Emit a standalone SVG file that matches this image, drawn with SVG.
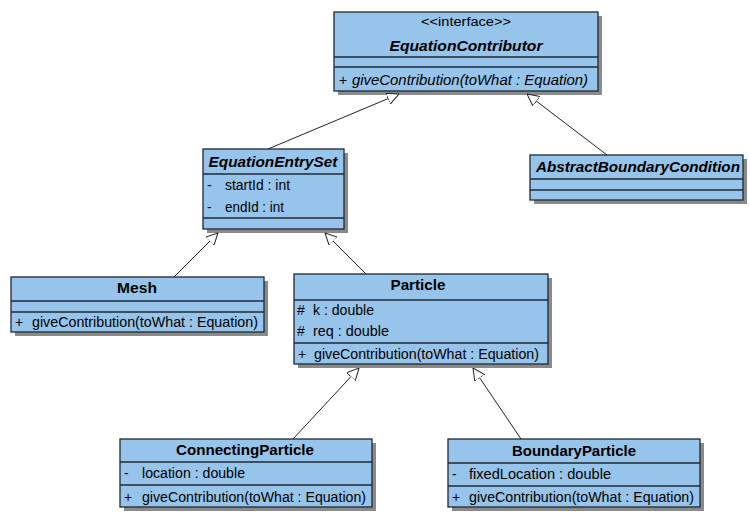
<svg xmlns="http://www.w3.org/2000/svg" width="750" height="513" viewBox="0 0 750 513">
<defs>
<marker id="gen" viewBox="0 0 12 12" refX="12" refY="6" markerWidth="12" markerHeight="12" markerUnits="userSpaceOnUse" orient="auto">
<path d="M0,0 L12,6 L0,12 Z" fill="#fff" stroke="#222" stroke-width="1"/>
</marker>
</defs>
<style>
.box{fill:#97c4ea;stroke:#1e2a33;stroke-width:1.3}
.sh{fill:#8a8a8a}
.ln{stroke:#1e2a33;stroke-width:1.3}
.t{font-family:"Liberation Sans",Arial,sans-serif;font-size:14px;fill:#000}
.title{font-weight:bold;text-anchor:middle}
.ab{font-style:italic}
.ster{font-size:12px;text-anchor:middle}
.c{stroke:#222;stroke-width:1;fill:none;marker-end:url(#gen)}
</style>
<rect width="750" height="513" fill="#fff"/>

<g id="EquationContributor">
<rect class="sh" x="338" y="16" width="264" height="79"/>
<rect class="box" x="334" y="12" width="264" height="79"/>
<line class="ln" x1="334" y1="57" x2="598" y2="57"/>
<line class="ln" x1="334" y1="67" x2="598" y2="67"/>
<text class="t ster" x="466" y="26" textLength="90" lengthAdjust="spacingAndGlyphs">&lt;&lt;interface&gt;&gt;</text>
<text class="t title ab" x="466" y="51" textLength="153" lengthAdjust="spacingAndGlyphs">EquationContributor</text>
<text class="t" x="339" y="85">+</text>
<text class="t ab" x="352" y="85" textLength="236" lengthAdjust="spacingAndGlyphs">giveContribution(toWhat : Equation)</text>
</g>

<g id="EquationEntrySet">
<rect class="sh" x="207" y="153" width="141" height="80"/>
<rect class="box" x="203" y="149" width="141" height="80"/>
<line class="ln" x1="203" y1="174" x2="344" y2="174"/>
<line class="ln" x1="203" y1="218" x2="344" y2="218"/>
<text class="t title ab" x="273" y="167" textLength="129" lengthAdjust="spacingAndGlyphs">EquationEntrySet</text>
<text class="t" x="207" y="190">-</text>
<text class="t" x="225" y="190" textLength="65" lengthAdjust="spacingAndGlyphs">startId : int</text>
<text class="t" x="207" y="212">-</text>
<text class="t" x="225" y="212" textLength="59" lengthAdjust="spacingAndGlyphs">endId : int</text>
</g>

<g id="AbstractBoundaryCondition">
<rect class="sh" x="534" y="159" width="213" height="45"/>
<rect class="box" x="530" y="155" width="213" height="45"/>
<line class="ln" x1="530" y1="179" x2="743" y2="179"/>
<line class="ln" x1="530" y1="190" x2="743" y2="190"/>
<text class="t title ab" x="638" y="172" textLength="204" lengthAdjust="spacingAndGlyphs">AbstractBoundaryCondition</text>
</g>

<g id="Mesh">
<rect class="sh" x="15" y="281" width="253" height="55"/>
<rect class="box" x="11" y="277" width="253" height="55"/>
<line class="ln" x1="11" y1="301" x2="264" y2="301"/>
<line class="ln" x1="11" y1="312" x2="264" y2="312"/>
<text class="t title" x="137" y="293" textLength="40" lengthAdjust="spacingAndGlyphs">Mesh</text>
<text class="t" x="15" y="327">+</text>
<text class="t" x="32" y="327" textLength="226" lengthAdjust="spacingAndGlyphs">giveContribution(toWhat : Equation)</text>
</g>

<g id="Particle">
<rect class="sh" x="298" y="278" width="254" height="90"/>
<rect class="box" x="294" y="274" width="254" height="90"/>
<line class="ln" x1="294" y1="300" x2="548" y2="300"/>
<line class="ln" x1="294" y1="343" x2="548" y2="343"/>
<text class="t title" x="418" y="290" textLength="55" lengthAdjust="spacingAndGlyphs">Particle</text>
<text class="t" x="297" y="315">#</text>
<text class="t" x="313" y="315" textLength="61" lengthAdjust="spacingAndGlyphs">k : double</text>
<text class="t" x="297" y="336">#</text>
<text class="t" x="313" y="336" textLength="76" lengthAdjust="spacingAndGlyphs">req : double</text>
<text class="t" x="298" y="359">+</text>
<text class="t" x="314" y="359" textLength="225" lengthAdjust="spacingAndGlyphs">giveContribution(toWhat : Equation)</text>
</g>

<g id="ConnectingParticle">
<rect class="sh" x="124" y="443" width="252" height="68"/>
<rect class="box" x="120" y="439" width="252" height="68"/>
<line class="ln" x1="120" y1="462" x2="372" y2="462"/>
<line class="ln" x1="120" y1="485" x2="372" y2="485"/>
<text class="t title" x="245" y="455" textLength="138" lengthAdjust="spacingAndGlyphs">ConnectingParticle</text>
<text class="t" x="124" y="478">-</text>
<text class="t" x="142" y="478" textLength="103" lengthAdjust="spacingAndGlyphs">location : double</text>
<text class="t" x="124" y="502">+</text>
<text class="t" x="142" y="502" textLength="224" lengthAdjust="spacingAndGlyphs">giveContribution(toWhat : Equation)</text>
</g>

<g id="BoundaryParticle">
<rect class="sh" x="452" y="443" width="252" height="68"/>
<rect class="box" x="448" y="439" width="252" height="68"/>
<line class="ln" x1="448" y1="463" x2="700" y2="463"/>
<line class="ln" x1="448" y1="486" x2="700" y2="486"/>
<text class="t title" x="574" y="456" textLength="124" lengthAdjust="spacingAndGlyphs">BoundaryParticle</text>
<text class="t" x="452" y="479">-</text>
<text class="t" x="469" y="479" textLength="142" lengthAdjust="spacingAndGlyphs">fixedLocation : double</text>
<text class="t" x="452" y="502">+</text>
<text class="t" x="469" y="502" textLength="225" lengthAdjust="spacingAndGlyphs">giveContribution(toWhat : Equation)</text>
</g>

<g id="connectors">
<line class="c" x1="268" y1="149" x2="399" y2="94"/>
<line class="c" x1="607" y1="155" x2="527" y2="94"/>
<line class="c" x1="174" y1="277" x2="218" y2="233"/>
<line class="c" x1="366" y1="274" x2="325" y2="233"/>
<line class="c" x1="293" y1="439" x2="359" y2="368"/>
<line class="c" x1="521" y1="439" x2="473" y2="368"/>
</g>
</svg>
